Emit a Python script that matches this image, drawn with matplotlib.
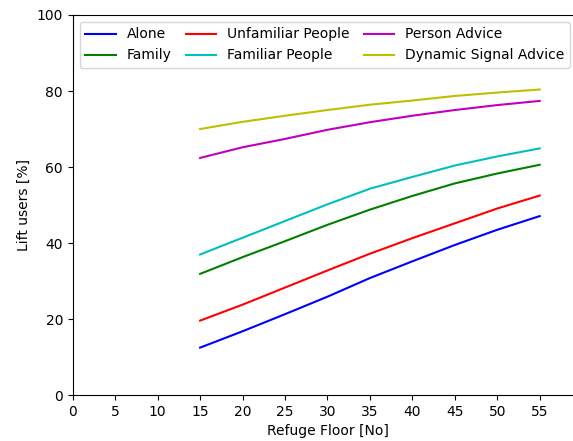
import matplotlib
matplotlib.use("Agg")
import matplotlib.pyplot as plt

floors = [15, 20, 25, 30, 35, 40, 45, 50, 55]

alone = [12.5, 16.8, 21.3, 25.9, 30.8, 35.2, 39.5, 43.5, 47.1]
family = [31.9, 36.3, 40.5, 44.8, 48.8, 52.4, 55.7, 58.3, 60.6]
unfamiliar = [19.6, 23.8, 28.3, 32.8, 37.2, 41.3, 45.2, 49.1, 52.5]
familiar = [37.0, 41.4, 45.8, 50.2, 54.3, 57.4, 60.4, 62.8, 64.9]
person_advice = [62.4, 65.2, 67.4, 69.8, 71.8, 73.5, 75.0, 76.3, 77.4]
dynamic_advice = [70.0, 71.9, 73.5, 75.0, 76.4, 77.5, 78.7, 79.6, 80.4]

series = [
    ("Alone", alone, "b"),
    ("Family", family, "g"),
    ("Unfamiliar People", unfamiliar, "r"),
    ("Familiar People", familiar, "c"),
    ("Person Advice", person_advice, "m"),
    ("Dynamic Signal Advice", dynamic_advice, "y"),
]

fig = plt.figure(figsize=(5.73, 4.41), dpi=100)
ax = fig.add_axes([0.127, 0.104, 0.889, 0.862])

for name, vals, col in series:
    ax.plot(floors, vals, color=col, label=name, linewidth=1.5)

ax.set_xlim(0, 60)
ax.set_ylim(0, 100)
ax.set_xticks(range(0, 60, 5))
ax.set_yticks(range(0, 101, 20))
ax.set_xlabel("Refuge Floor [No]")
ax.set_ylabel("Lift users [%]")
ax.legend(loc="upper left", ncol=3, columnspacing=1.0, handlelength=2.2)

fig.savefig("out.png", dpi=100)
